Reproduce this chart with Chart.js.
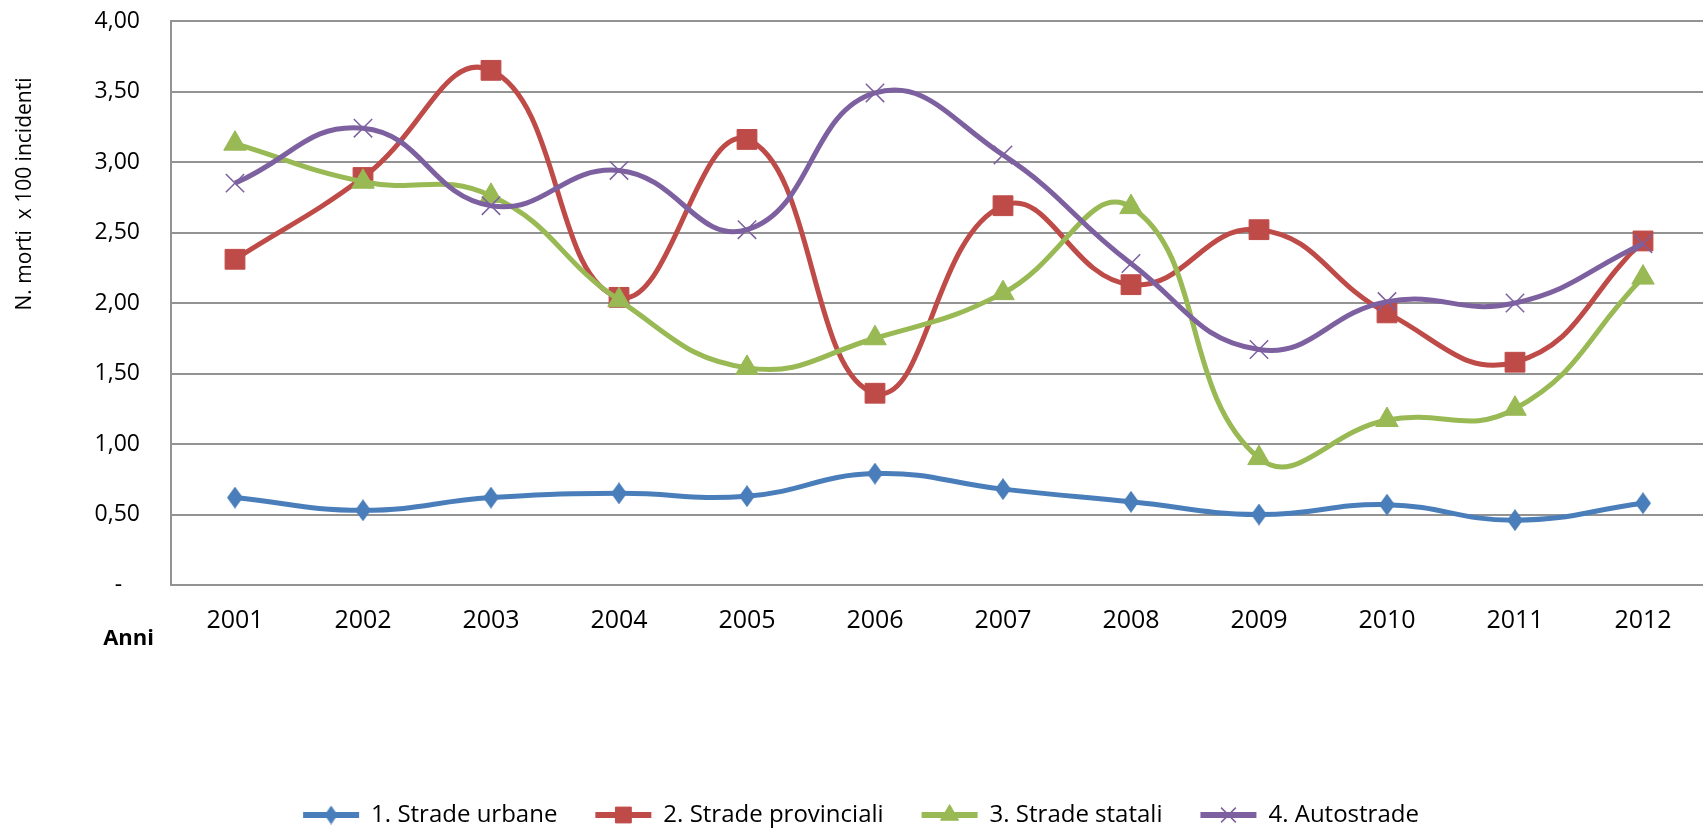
<!DOCTYPE html>
<html>
<head>
<meta charset="utf-8">
<script src="https://cdn.jsdelivr.net/npm/chart.js@4.4.1/dist/chart.umd.min.js"></script>
<style>
html, body { margin: 0; padding: 0; overflow: hidden; background: #fff; }
</style>
</head>
<body>
<canvas id="myChart" width="1722" height="829"></canvas>
<script>
var anni = ['2001', '2002', '2003', '2004', '2005', '2006', '2007', '2008', '2009', '2010', '2011', '2012'];
var stradeUrbane = [0.62, 0.53, 0.62, 0.65, 0.63, 0.79, 0.68, 0.59, 0.50, 0.57, 0.46, 0.58];
var stradeProvinciali = [2.31, 2.89, 3.65, 2.04, 3.16, 1.36, 2.69, 2.13, 2.52, 1.93, 1.58, 2.44];
var stradeStatali = [3.13, 2.86, 2.76, 2.02, 1.54, 1.75, 2.07, 2.68, 0.90, 1.17, 1.25, 2.18];
var autostrade = [2.85, 3.24, 2.69, 2.94, 2.52, 3.49, 3.05, 2.28, 1.67, 2.01, 2.00, 2.42];
var yTicks = [0, 0.5, 1, 1.5, 2, 2.5, 3, 3.5, 4];

var font = "'Open Sans', 'DejaVu Sans', sans-serif";
var gridColor = '#939393';

// rombo un po' allungato come in Excel
function makeDiamond(color, w, h) {
  var c = document.createElement('canvas');
  c.width = w;
  c.height = h;
  var g = c.getContext('2d');
  g.fillStyle = color;
  g.beginPath();
  g.moveTo(w / 2, 0);
  g.lineTo(w, h / 2);
  g.lineTo(w / 2, h);
  g.lineTo(0, h / 2);
  g.closePath();
  g.fill();
  return c;
}
var diamond = makeDiamond('#4A7EBB', 16, 22);
var diamondSmall = makeDiamond('#4A7EBB', 13, 19);

var data = {
  labels: anni,
  datasets: [{
    label: '1. Strade urbane',
    data: stradeUrbane,
    borderColor: '#4A7EBB',
    backgroundColor: '#4A7EBB',
    pointStyle: diamond,
    pointRadius: 9,
    order: 4
  }, {
    label: '2. Strade provinciali',
    data: stradeProvinciali,
    borderColor: '#BE4B48',
    backgroundColor: '#BE4B48',
    pointStyle: 'rect',
    pointRadius: 14,
    order: 3
  }, {
    label: '3. Strade statali',
    data: stradeStatali,
    borderColor: '#98B954',
    backgroundColor: '#98B954',
    pointStyle: 'triangle',
    pointRadius: 13,
    order: 2
  }, {
    label: '4. Autostrade',
    data: autostrade,
    borderColor: '#7D60A0',
    backgroundColor: '#7D60A0',
    pointStyle: 'crossRot',
    pointRadius: 13,
    pointBorderWidth: 1.5,
    order: 1
  }]
};

// testi fissi: titolo asse y, "Anni", simboli nella legenda
var extraText = {
  id: 'extraText',
  afterDraw: function(chart) {
    var ctx = chart.ctx;
    ctx.save();
    ctx.fillStyle = '#000';
    ctx.font = "21px " + font;
    ctx.textAlign = 'center';
    ctx.textBaseline = 'middle';
    ctx.translate(25, 194);
    ctx.rotate(-Math.PI / 2);
    ctx.fillText('N. morti  x 100 incidenti', 0, 0);
    ctx.restore();

    ctx.save();
    ctx.fillStyle = '#000';
    ctx.font = "bold 22px " + font;
    ctx.textAlign = 'right';
    ctx.textBaseline = 'middle';
    ctx.fillText('Anni', chart.chartArea.left - 17, chart.chartArea.bottom + 54);
    ctx.restore();

    var legend = chart.legend;
    legend.legendItems.forEach(function(item, i) {
      var box = legend.legendHitBoxes[i];
      var ds = chart.data.datasets[item.datasetIndex];
      var style = item.datasetIndex === 0 ? diamondSmall : ds.pointStyle;
      ctx.save();
      ctx.fillStyle = ds.backgroundColor;
      ctx.strokeStyle = ds.borderColor;
      ctx.lineWidth = ds.pointBorderWidth || 1;
      Chart.helpers.drawPoint(ctx, {
        pointStyle: style,
        radius: ds.pointRadius * 0.8,
        rotation: 0,
        borderWidth: ds.pointBorderWidth || 1
      }, box.left + 28, box.top + box.height / 2);
      ctx.restore();
    });
  }
};

var config = {
  type: 'line',
  data: data,
  options: {
    responsive: false,
    animation: false,
    layout: {
      padding: { top: 21, right: 0, bottom: -8, left: 0 }
    },
    elements: {
      line: { borderWidth: 5, tension: 0.45, fill: false },
      point: { borderWidth: 1, hoverRadius: 9 }
    },
    scales: {
      x: {
        offset: true,
        grid: { display: false, drawTicks: false },
        border: { display: true, color: gridColor, width: 2 },
        ticks: { color: '#000', padding: 21, font: { family: font, size: 25 } },
        afterFit: function(scale) { scale.height = 180; }
      },
      y: {
        min: 0,
        max: 4,
        afterBuildTicks: function(scale) {
          scale.ticks = yTicks.map(function(v) { return { value: v }; });
        },
        grid: { color: gridColor, lineWidth: 2, drawTicks: false },
        border: { display: true, color: gridColor, width: 2 },
        ticks: {
          color: '#000',
          padding: 31,
          font: { family: font, size: 23 },
          callback: function(v) {
            if (v === 0) return '-   ';
            return v.toFixed(2).replace('.', ',');
          }
        },
        afterFit: function(scale) {
          scale.width = 171;
          scale.paddingTop = 0;
          scale.paddingBottom = 0;
        }
      }
    },
    plugins: {
      legend: {
        position: 'bottom',
        labels: {
          color: '#000',
          boxWidth: 56,
          boxHeight: 6,
          padding: 38,
          font: { family: font, size: 24 },
          sort: function(a, b) { return a.datasetIndex - b.datasetIndex; },
          generateLabels: function(chart) {
            var items = Chart.defaults.plugins.legend.labels.generateLabels(chart);
            items.forEach(function(it) {
              it.lineWidth = 0;
              it.fillStyle = chart.data.datasets[it.datasetIndex].borderColor;
            });
            return items;
          }
        }
      },
      tooltip: { enabled: false }
    }
  },
  plugins: [extraText]
};

var myChart = new Chart(document.getElementById('myChart'), config);
</script>
</body>
</html>
